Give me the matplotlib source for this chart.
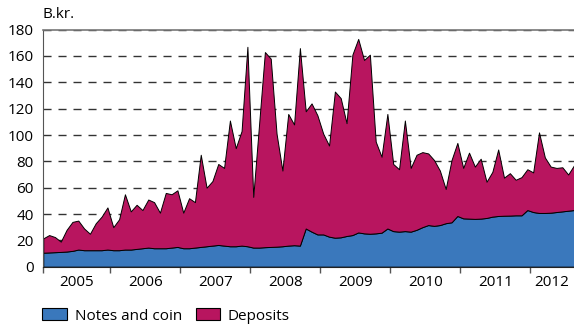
import numpy as np
import matplotlib.pyplot as plt
from matplotlib.patches import Patch

plt.rcParams['font.family'] = ['Open Sans', 'DejaVu Sans']

# monthly figures, Jan 2005 - Aug 2012, b.kr.
notes_and_coin = [
    10.6, 10.8, 11.0, 11.2, 11.5, 12.0, 13.0, 12.5, 12.5, 12.5, 12.5, 13.0,
    12.5, 12.5, 13.0, 13.0, 13.5, 14.0, 14.5, 14.0, 14.0, 14.0, 14.5, 15.0,
    14.0, 14.0, 14.5, 15.0, 15.5, 16.0, 16.5, 16.0, 15.5, 15.5, 16.0, 15.5,
    14.5, 14.5, 14.8, 15.0, 15.2, 15.5, 16.0, 16.3, 16.0, 29.0, 26.6, 24.5,
    24.5, 22.8, 22.0, 22.3, 23.3, 24.0, 26.0, 25.3, 25.0, 25.3, 25.8, 29.0,
    27.0, 26.6, 27.0, 26.6, 28.0, 30.0, 31.6, 31.0, 31.6, 33.0, 33.7, 38.5,
    36.7, 36.5, 36.3, 36.5, 37.0, 38.0, 38.5, 38.7, 38.8, 39.0, 39.0, 43.0,
    41.5, 40.8, 40.8, 41.0, 41.5, 42.0, 42.5, 43.0,
]
deposits = [
    10.9, 13.2, 11.5, 7.8, 16.5, 22.0, 22.0, 16.5, 12.5, 20.5, 25.5, 32.0,
    17.5, 23.5, 42.0, 29.0, 33.5, 29.0, 36.5, 35.0, 27.0, 42.0, 40.5, 43.0,
    27.0, 38.0, 34.5, 70.0, 44.5, 49.0, 61.5, 59.0, 95.5, 74.5, 87.0, 151.5,
    38.5, 93.5, 148.2, 143.0, 85.8, 57.5, 100.0, 91.7, 150.0, 89.0, 97.4, 90.5,
    76.5, 69.2, 111.0, 105.7, 85.7, 137.0, 147.0, 131.7, 136.0, 69.7, 57.7, 87.0,
    51.0, 47.4, 84.0, 48.4, 57.0, 57.0, 54.4, 50.0, 41.4, 26.0, 47.3, 55.5,
    38.3, 50.1, 39.7, 45.5, 27.5, 34.0, 50.5, 28.9, 32.2, 27.0, 29.0, 31.0,
    30.1, 61.2, 42.2, 35.0, 33.5, 33.5, 27.5, 34.0,
]
years = ['2005', '2006', '2007', '2008', '2009', '2010', '2011', '2012']

blue = '#3a78bc'
magenta = '#b8155f'

months = np.arange(len(notes_and_coin))
last = months[-1]

fig = plt.figure(figsize=(5.74, 3.26), dpi=100)
ax = fig.add_axes([0.0754, 0.182, 0.9246, 0.727])

ax.stackplot(months, notes_and_coin, deposits, colors=[blue, magenta],
             edgecolor='black', linewidth=0.7)

ax.set_xlim(0, last)
ax.set_ylim(0, 180)
ax.set_yticks(np.arange(0, 181, 20))
ax.set_axisbelow(True)
ax.grid(axis='y', color='#333333', linewidth=1.0, dashes=(5.8, 5))
ax.grid(axis='x', visible=False)

# year boundaries as ticks, year names centred between them
bounds = [0] + [12 * k - 0.5 for k in range(1, len(years))]
edges = bounds + [last]
centers = [(edges[i] + edges[i + 1]) / 2 for i in range(len(years))]
ax.set_xticks(bounds)
ax.set_xticklabels([])
ax.set_xticks(centers, minor=True)
ax.set_xticklabels(years, minor=True)
ax.tick_params(axis='x', which='major', direction='out', length=4,
               width=1, color='#555555')
ax.tick_params(axis='x', which='minor', length=0, pad=6, labelsize=11)
ax.tick_params(axis='y', length=0, pad=7, labelsize=11)

ax.spines['right'].set_visible(False)
ax.spines['top'].set_color('#777777')
ax.spines['top'].set_linewidth(1.2)
ax.spines['left'].set_color('#555555')
ax.spines['bottom'].set_color('#222222')

fig.text(43 / 574, 1 - 15 / 326, 'B.kr.', fontsize=11, va='center', ha='left')

handles = [Patch(facecolor=blue, edgecolor='black', linewidth=0.8, label='Notes and coin'),
           Patch(facecolor=magenta, edgecolor='black', linewidth=0.8, label='Deposits')]
fig.legend(handles=handles, loc='lower left', bbox_to_anchor=(0.05, -0.035),
           ncol=2, frameon=False, fontsize=11, handlelength=1.6,
           handleheight=0.85, handletextpad=0.5, columnspacing=0.9)

fig.savefig('out.png', dpi=100)
